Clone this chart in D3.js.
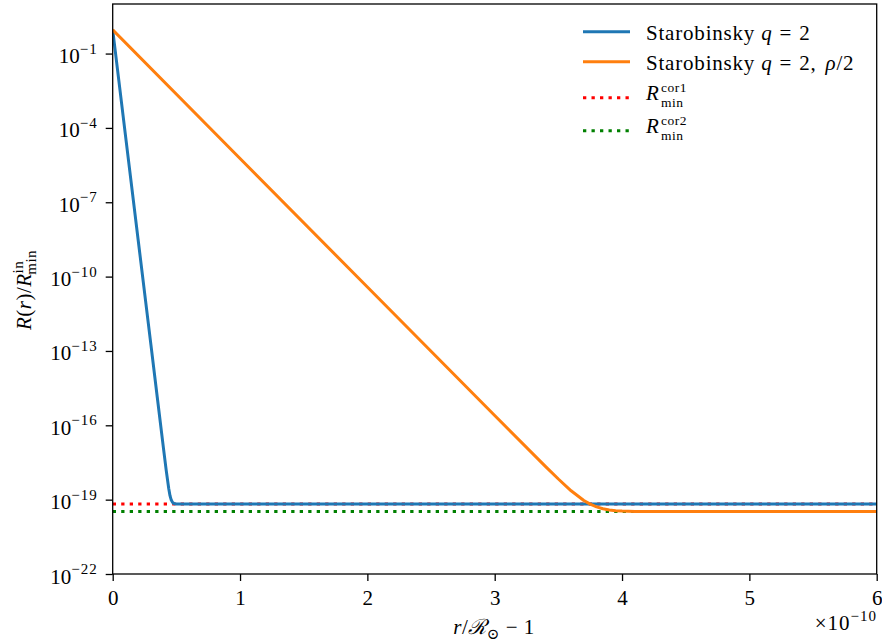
<!DOCTYPE html>
<html>
<head>
<meta charset="utf-8">
<script src="https://cdn.jsdelivr.net/npm/d3@7"></script>
<style>
  body { margin: 0; background: #fff; }
  svg { display: block; }
  text { font-family: "Liberation Serif", "DejaVu Serif", serif; fill: #000; }
</style>
</head>
<body>
<svg id="chart" width="882" height="644"></svg>
<script>
// ---------------- data ----------------
// x in units of 1e-10 (r/R_sun - 1), y = R(r)/R_min^in
const blueX = [0, 0.1, 0.2, 0.3, 0.35, 0.4, 0.42, 0.44, 0.45, 0.46, 0.47, 0.48, 0.5, 0.6, 1, 2, 3, 4, 5, 6];
const blueR = [0.9, 5.1e-5, 3.0e-9, 1.8e-13, 1.35e-15, 1.05e-17, 1.55e-18, 2.8e-19, 1.45e-19, 9.6e-20, 7.75e-20, 7.0e-20, 6.66e-20, 6.6e-20, 6.6e-20, 6.6e-20, 6.6e-20, 6.6e-20, 6.6e-20, 6.6e-20];

const orangeX = [0, 1, 2, 3, 3.4, 3.5, 3.6, 3.7, 3.75, 3.8, 3.85, 3.9, 3.95, 4.0, 4.1, 4.2, 4.4, 5, 6];
const orangeR = [0.9, 5.8e-6, 3.8e-11, 2.5e-16, 2.15e-18, 6.8e-19, 2.28e-19, 9.2e-20, 6.57e-20, 5.1e-20, 4.3e-20, 3.85e-20, 3.6e-20, 3.47e-20, 3.35e-20, 3.32e-20, 3.3e-20, 3.3e-20, 3.3e-20];

const rMinCor1 = 6.6e-20;
const rMinCor2 = 3.3e-20;
const refX = [0, 6];

const xTicks = [0, 1, 2, 3, 4, 5, 6];
const yTickExps = [-22, -19, -16, -13, -10, -7, -4, -1];

const legendLabels = ["Starobinsky q = 2", "Starobinsky q = 2, ρ/2", "R cor1 min", "R cor2 min"];

// ---------------- layout ----------------
const svg = d3.select("#chart");
const L = 112.7, R = 876.7, T = 4, B = 574;

const x = d3.scaleLinear().domain([0, 6]).range([L, R]);
const y = d3.scaleLog().domain([1e-22, 1e1]).range([B, T]);

const FS = 21, FSS = 15, LS = "0.5px", LSL = "0.8px";

svg.append("defs").append("clipPath").attr("id", "clip")
  .append("rect").attr("x", L).attr("y", T).attr("width", R - L).attr("height", B - T);

const plot = svg.append("g").attr("clip-path", "url(#clip)");
const line = d3.line().x(d => x(d[0])).y(d => y(d[1]));

// reference dotted lines
plot.append("path")
  .datum(refX.map(v => [v, rMinCor1]))
  .attr("d", line).attr("fill", "none").attr("stroke", "red")
  .attr("stroke-width", 3).attr("stroke-dasharray", "3.3,5.2");
plot.append("path")
  .datum(refX.map(v => [v, rMinCor2]))
  .attr("d", line).attr("fill", "none").attr("stroke", "green")
  .attr("stroke-width", 3).attr("stroke-dasharray", "3.3,5.2");

plot.append("path")
  .datum(blueX.map((v, i) => [v, blueR[i]]))
  .attr("d", line).attr("fill", "none").attr("stroke", "#1f77b4")
  .attr("stroke-width", 3).attr("stroke-linejoin", "round");
plot.append("path")
  .datum(orangeX.map((v, i) => [v, orangeR[i]]))
  .attr("d", line).attr("fill", "none").attr("stroke", "#ff7f0e")
  .attr("stroke-width", 3).attr("stroke-linejoin", "round");

// axes
const xAxis = d3.axisBottom(x).tickValues(xTicks).tickSize(7).tickPadding(4).tickFormat(d3.format("d"));
const gx = svg.append("g").attr("transform", `translate(0,${B})`).call(xAxis);
gx.select(".domain").remove();
gx.selectAll(".tick line").attr("stroke", "#000").attr("stroke-width", 1.3);
gx.selectAll(".tick text").attr("font-size", FS).attr("dy", null).attr("y", 31)
  .style("font-family", "'Liberation Serif', serif");

const yAxis = d3.axisLeft(y).tickValues(yTickExps.map(e => Math.pow(10, e))).tickSize(7).tickFormat("");
const gy = svg.append("g").attr("transform", `translate(${L},0)`).call(yAxis);
gy.select(".domain").remove();
gy.selectAll(".tick line").attr("stroke", "#000").attr("stroke-width", 1.3);
gy.selectAll(".tick").each(function (d) {
  const e = Math.round(Math.log10(d));
  const t = d3.select(this).append("text")
    .attr("x", -15).attr("y", 9).attr("text-anchor", "end")
    .attr("font-size", FS).style("font-family", "'Liberation Serif', serif");
  t.append("tspan").text("10");
  t.append("tspan").attr("font-size", FSS).attr("dy", -9.5).attr("letter-spacing", "1px").text("−" + Math.abs(e));
});

// frame
svg.append("rect").attr("x", L).attr("y", T).attr("width", R - L).attr("height", B - T)
  .attr("fill", "none").attr("stroke", "#000").attr("stroke-width", 1.3);

// x label
const xl = svg.append("text").attr("x", 494).attr("y", 634).attr("text-anchor", "middle")
  .attr("font-size", FS).attr("letter-spacing", LS);
xl.append("tspan").attr("font-style", "italic").text("r");
xl.append("tspan").text("/");
xl.append("tspan").attr("font-style", "italic").text("ℛ");
xl.append("tspan").attr("font-size", FSS).attr("dy", 5).text("⊙");
xl.append("tspan").attr("dy", -5).text(" − 1");

// offset text
const ot = svg.append("text").attr("x", 877).attr("y", 630).attr("text-anchor", "end")
  .attr("font-size", FS).attr("letter-spacing", "1px");
ot.append("tspan").text("×10");
ot.append("tspan").attr("font-size", FSS).attr("dy", -9.5).text("−10");

// y label
const yl = svg.append("text").attr("transform", "translate(31,290) rotate(-90)")
  .attr("text-anchor", "middle").attr("font-size", FS).attr("letter-spacing", LS);
yl.append("tspan").attr("font-style", "italic").text("R");
yl.append("tspan").text("(");
yl.append("tspan").attr("font-style", "italic").text("r");
yl.append("tspan").text(")/");
yl.append("tspan").attr("font-style", "italic").text("R");
yl.append("tspan").attr("font-size", FSS).attr("dy", -8).text("in");
yl.append("tspan").attr("font-size", FSS).attr("dx", -14).attr("dy", 13).text("min");

// legend
const lg = svg.append("g");
const rows = [
  { y: 31.7, color: "#1f77b4", dash: null },
  { y: 61.7, color: "#ff7f0e", dash: null },
  { y: 97.7, color: "red", dash: "3.3,5.2" },
  { y: 130.7, color: "green", dash: "3.3,5.2" }
];
rows.forEach((r, i) => {
  lg.append("line").attr("x1", 583).attr("x2", 630).attr("y1", r.y).attr("y2", r.y)
    .attr("stroke", r.color).attr("stroke-width", 3)
    .attr("stroke-dasharray", r.dash);
  if (i < 2) {
    const t = lg.append("text").attr("x", 646).attr("y", r.y + 7.8)
      .attr("font-size", FS).attr("letter-spacing", LSL);
    t.append("tspan").text("Starobinsky ");
    t.append("tspan").attr("font-style", "italic").text("q");
    t.append("tspan").attr("dx", 7).text("=");
    t.append("tspan").attr("dx", 7).text("2");
    if (i === 1) {
      t.append("tspan").text(",");
      t.append("tspan").attr("dx", 9).attr("font-style", "italic").text("ρ");
      t.append("tspan").text("/2");
    }
  } else {
    const parts = legendLabels[i].split(" ");
    lg.append("text").attr("x", 646).attr("y", r.y + 2.5).attr("font-size", FS)
      .attr("font-style", "italic").text(parts[0]);
    lg.append("text").attr("x", 661).attr("y", r.y - 6).attr("font-size", 13.5)
      .attr("letter-spacing", LS).text(parts[1]);
    lg.append("text").attr("x", 661).attr("y", r.y + 8.8).attr("font-size", 13.5)
      .attr("letter-spacing", LS).text(parts[2]);
  }
});
</script>
</body>
</html>
